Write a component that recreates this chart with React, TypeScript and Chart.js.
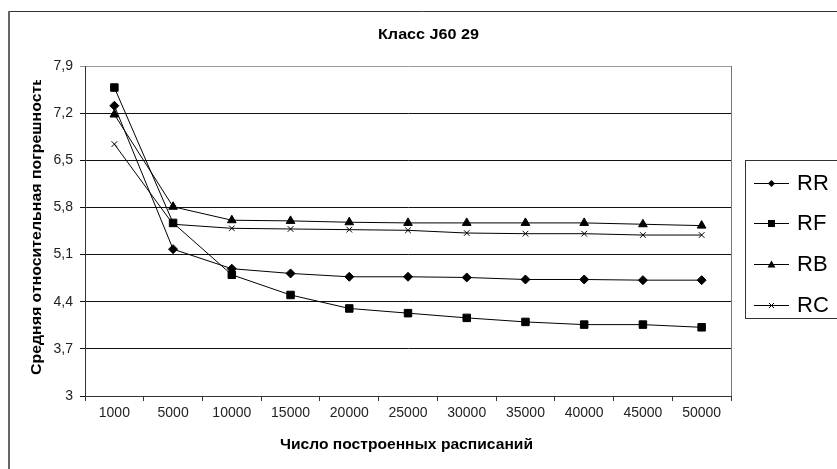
import React, { useEffect, useRef } from 'react';
import { Chart, registerables } from 'chart.js';

Chart.register(...registerables);

const categories = ['1000', '5000', '10000', '15000', '20000', '25000', '30000', '35000', '40000', '45000', '50000'];
const rrValues = [7.31, 5.18, 4.89, 4.82, 4.77, 4.77, 4.76, 4.73, 4.73, 4.72, 4.72];
const rfValues = [7.58, 5.57, 4.8, 4.5, 4.3, 4.23, 4.16, 4.1, 4.06, 4.06, 4.02];
const rbValues = [7.18, 5.81, 5.61, 5.6, 5.58, 5.57, 5.57, 5.57, 5.57, 5.55, 5.53];
const rcValues = [6.74, 5.55, 5.49, 5.48, 5.47, 5.46, 5.42, 5.41, 5.41, 5.39, 5.39];
const yTickValues = [3, 3.7, 4.4, 5.1, 5.8, 6.5, 7.2, 7.9];
const seriesNames = ['RR', 'RF', 'RB', 'RC'];
const seriesMarkers = ['rectRot', 'rect', 'triangle', 'crossRot'];
const chartTitle = 'Класс J60 29';
const xTitle = 'Число построенных расписаний';
const yTitle = 'Средняя относительная погрешность';

const FONT = '"Liberation Sans", Arial, sans-serif';

function drawLegendMarker(ctx: CanvasRenderingContext2D, kind: string, x: number, y: number) {
  ctx.save();
  ctx.fillStyle = '#000';
  ctx.strokeStyle = '#000';
  ctx.lineWidth = 1;
  ctx.beginPath();
  if (kind === 'rectRot') {
    ctx.moveTo(x - 3.5, y);
    ctx.lineTo(x, y - 3.5);
    ctx.lineTo(x + 3.5, y);
    ctx.lineTo(x, y + 3.5);
    ctx.closePath();
    ctx.fill();
  } else if (kind === 'rect') {
    ctx.rect(x - 3.5, y - 3.5, 7, 7);
    ctx.fill();
  } else if (kind === 'triangle') {
    ctx.moveTo(x - 4, y + 3);
    ctx.lineTo(x, y - 4);
    ctx.lineTo(x + 4, y + 3);
    ctx.closePath();
    ctx.fill();
  } else {
    ctx.moveTo(x - 2.5, y - 2.5);
    ctx.lineTo(x + 2.5, y + 2.5);
    ctx.moveTo(x + 2.5, y - 2.5);
    ctx.lineTo(x - 2.5, y + 2.5);
    ctx.stroke();
  }
  ctx.restore();
}

// draw text stretched along its direction to a target length (the original uses a wide font)
function drawStretched(ctx: CanvasRenderingContext2D, text: string, font: string, target: number, align: 'center' | 'left') {
  ctx.font = font;
  const w = ctx.measureText(text).width;
  const s = target / w;
  ctx.save();
  ctx.scale(s, 1);
  ctx.textAlign = align;
  ctx.textBaseline = 'middle';
  ctx.fillText(text, 0, 0);
  ctx.restore();
}

const decorPlugin = {
  id: 'decor',
  beforeDraw(chart: any) {
    const ctx = chart.ctx as CanvasRenderingContext2D;
    ctx.save();
    ctx.fillStyle = '#fff';
    ctx.fillRect(0, 0, chart.width, chart.height);
    ctx.strokeStyle = '#333';
    ctx.lineWidth = 1;
    ctx.beginPath();
    ctx.moveTo(8, 11.5);
    ctx.lineTo(chart.width, 11.5);
    ctx.stroke();
    ctx.strokeStyle = '#666';
    ctx.lineWidth = 2;
    ctx.beginPath();
    ctx.moveTo(9, 11);
    ctx.lineTo(9, chart.height);
    ctx.stroke();
    ctx.restore();
  },
  afterDraw(chart: any) {
    const ctx = chart.ctx as CanvasRenderingContext2D;
    const area = chart.chartArea;
    ctx.save();
    // right plot border
    ctx.strokeStyle = '#777';
    ctx.lineWidth = 1;
    ctx.beginPath();
    ctx.moveTo(Math.round(area.right) + 0.5, area.top);
    ctx.lineTo(Math.round(area.right) + 0.5, area.bottom);
    ctx.stroke();

    ctx.fillStyle = '#000';
    ctx.save();
    ctx.translate(428.5, 35);
    drawStretched(ctx, chartTitle, 'bold 14px ' + FONT, 101, 'center');
    ctx.restore();

    ctx.save();
    ctx.translate(406.5, 445);
    drawStretched(ctx, xTitle, 'bold 15px ' + FONT, 253, 'center');
    ctx.restore();

    // y title (clipped at top like the original)
    ctx.save();
    ctx.beginPath();
    ctx.rect(0, 80, 80, 400);
    ctx.clip();
    ctx.translate(37, 375);
    ctx.rotate(-Math.PI / 2);
    drawStretched(ctx, yTitle, 'bold 14px ' + FONT, 299, 'left');
    ctx.restore();

    // legend
    ctx.strokeStyle = '#333';
    ctx.lineWidth = 1;
    ctx.strokeRect(745.5, 160.5, 200, 158);
    seriesNames.forEach((name, i) => {
      const y = 182.5 + i * 40.8;
      ctx.strokeStyle = '#000';
      ctx.lineWidth = 1;
      ctx.beginPath();
      ctx.moveTo(754, Math.round(y) + 0.5);
      ctx.lineTo(789, Math.round(y) + 0.5);
      ctx.stroke();
      drawLegendMarker(ctx, seriesMarkers[i], 771.5, Math.round(y) + 0.5);
      ctx.fillStyle = '#000';
      ctx.textAlign = 'left';
      ctx.textBaseline = 'middle';
      ctx.font = '22px ' + FONT;
      ctx.fillText(name, 797, y + 1);
    });
    ctx.restore();
  },
};

export default function App() {
  const canvasRef = useRef<HTMLCanvasElement | null>(null);

  useEffect(() => {
    const canvas = canvasRef.current;
    if (!canvas) return;
    const allValues = [rrValues, rfValues, rbValues, rcValues];
    const radii = [4.5, 5.3, 5, 4];
    const chart = new Chart(canvas, {
      type: 'line',
      data: {
        labels: categories,
        datasets: seriesNames.map((name, i) => ({
          label: name,
          data: allValues[i],
          borderColor: '#000',
          backgroundColor: '#000',
          borderWidth: 1,
          pointStyle: seriesMarkers[i] as any,
          pointRadius: radii[i],
          pointBorderWidth: 1,
          pointBackgroundColor: '#000',
          pointBorderColor: '#000',
          tension: 0,
          fill: false,
        })),
      },
      options: {
        responsive: false,
        animation: false,
        devicePixelRatio: 1,
        layout: { padding: { left: 0, right: 106, top: 66, bottom: 43 } },
        plugins: {
          legend: { display: false },
          title: { display: false },
          tooltip: { enabled: false },
        },
        scales: {
          x: {
            type: 'category',
            offset: true,
            grid: {
              offset: true,
              drawOnChartArea: false,
              drawTicks: true,
              tickLength: 5,
              color: '#333',
            },
            border: { display: true, color: '#333', width: 1 },
            ticks: {
              color: '#222',
              font: { family: FONT, size: 14 },
              padding: 4,
              maxRotation: 0,
              autoSkip: false,
            },
            afterFit: (scale: any) => {
              scale.height = 30;
            },
          },
          y: {
            min: 3,
            max: 7.9,
            afterBuildTicks: (scale: any) => {
              scale.ticks = yTickValues.map((v) => ({ value: v }));
            },
            grid: {
              color: (c: any) => (c.tick && Math.abs(c.tick.value - 7.9) < 1e-6 ? '#999' : '#111'),
              lineWidth: 1,
              drawTicks: true,
              tickLength: 5,
            },
            border: { display: true, color: '#333', width: 1 },
            ticks: {
              color: '#222',
              font: { family: FONT, size: 14 },
              padding: 7,
              callback: (v: any) => {
                const n = Number(v);
                return Math.abs(n - Math.round(n)) < 1e-6 ? String(Math.round(n)) : n.toFixed(1).replace('.', ',');
              },
            },
            afterFit: (scale: any) => {
              scale.width = 85;
            },
          },
        },
      },
      plugins: [decorPlugin],
    });
    return () => chart.destroy();
  }, []);

  return (
    <div style={{ position: 'fixed', left: 0, top: 0, width: 837, height: 469, overflow: 'hidden', background: '#fff' }}>
      <canvas ref={canvasRef} width={837} height={469} style={{ width: 837, height: 469, display: 'block' }} />
    </div>
  );
}
